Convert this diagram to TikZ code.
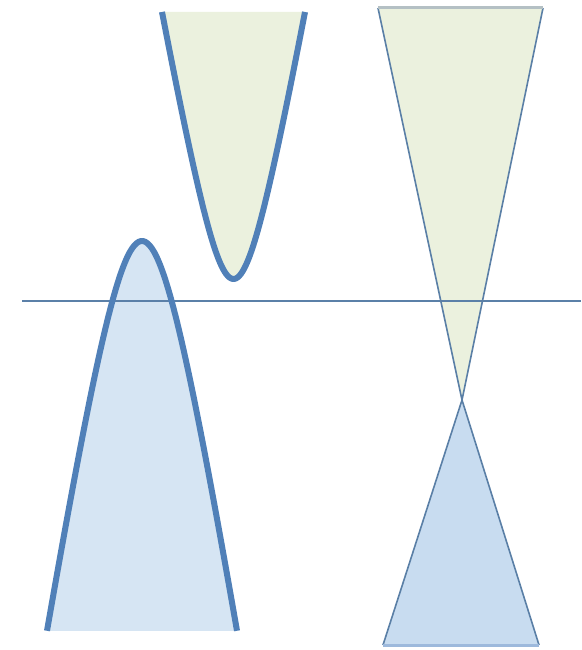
\documentclass[tikz,border=0pt]{standalone}
\begin{document}
\begin{tikzpicture}[x=1pt,y=-1pt,
  thickcurve/.style={draw=curveblue,line width=6pt,line join=round},
  conestroke/.style={draw=coneline,line width=1.6pt,line join=miter},
  axisline/.style={draw=axisblue,line width=2pt}]
\definecolor{curveblue}{HTML}{5080B8}
\definecolor{coneline}{HTML}{5A7FA6}
\definecolor{axisblue}{HTML}{5B80A8}
\definecolor{greenfill}{HTML}{EBF1DE}
\definecolor{bluefill}{HTML}{D6E5F3}
\definecolor{conebluefill}{HTML}{C8DCF0}
\definecolor{topedge}{HTML}{B4C0C4}
\definecolor{bottomedge}{HTML}{9DB9DC}
\useasboundingbox (0,0) rectangle (581,650);
% fills
\fill[greenfill] plot[domain=-71.5:71.5,samples=90,smooth]
  ({233.5+\x},{279-(-10.6+sqrt(112.36+0.128*(\x)*(\x)))/0.064}) -- cycle;
\fill[bluefill] plot[domain=-95:95,samples=90,smooth]
  ({142+\x},{241+(-13.06+sqrt(170.56+0.1036*(\x)*(\x)))/0.0518}) -- cycle;
\coordinate (ul) at (378,8);
\coordinate (ur) at (543,8);
\coordinate (apex) at (462,400);
\coordinate (bl) at (383,645);
\coordinate (br) at (539,645);
\fill[greenfill] (ul) -- (ur) -- (apex) -- cycle;
\fill[conebluefill] (bl) -- (br) -- (apex) -- cycle;
% axis
\coordinate (axl) at (22,301);
\coordinate (axr) at (581,301);
\draw[axisline] (axl) -- (axr);
% strokes
\draw[thickcurve] plot[domain=-71.5:71.5,samples=90,smooth]
  ({233.5+\x},{279-(-10.6+sqrt(112.36+0.128*(\x)*(\x)))/0.064});
\draw[thickcurve] plot[domain=-95:95,samples=90,smooth]
  ({142+\x},{241+(-13.06+sqrt(170.56+0.1036*(\x)*(\x)))/0.0518});
\draw[conestroke] (ul) -- (apex) -- (ur);
\draw[conestroke] (bl) -- (apex) -- (br);
\draw[topedge,line width=3pt] (ul) -- (ur);
\draw[bottomedge,line width=3pt] (bl) -- (br);
\end{tikzpicture}
\end{document}
